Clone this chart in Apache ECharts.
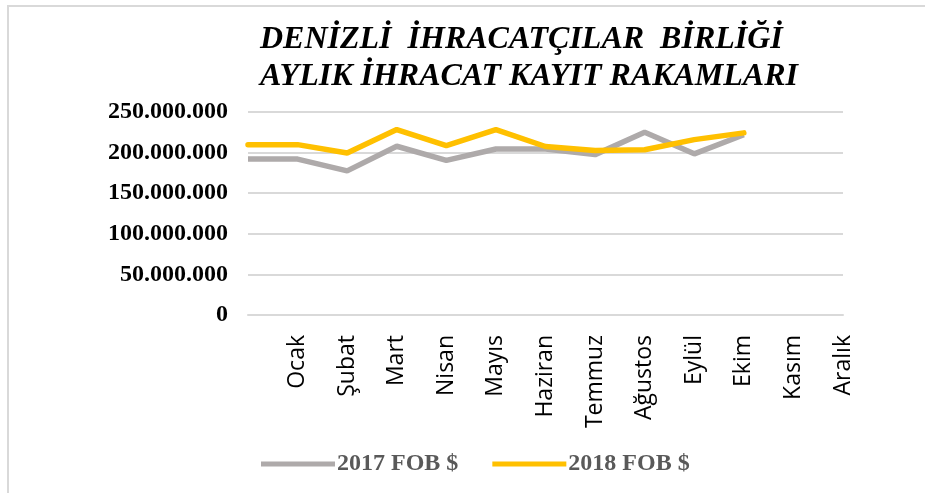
<!DOCTYPE html>
<html>
<head>
<meta charset="utf-8">
<script src="https://cdn.jsdelivr.net/npm/echarts@6/dist/echarts.min.js"></script>
<style>
  html, body { margin: 0; padding: 0; background: #fff; }
  #frame { position: absolute; left: 7px; top: 5px; width: 940px; height: 500px; border-left: 2px solid #d9d9d9; border-top: 2px solid #d9d9d9; }
  #chart { position: absolute; left: 0; top: 0; width: 925px; height: 493px; }
</style>
</head>
<body>
<div id="frame"></div>
<div id="chart"></div>
<script>
const months = ['', 'Ocak', 'Şubat', 'Mart', 'Nisan', 'Mayıs', 'Haziran', 'Temmuz', 'Ağustos', 'Eylül', 'Ekim', 'Kasım', 'Aralık']
const fob2017 = [192000000, 192000000, 177500000, 207800000, 190500000, 204500000, 204500000, 197500000, 225000000, 198500000, 222000000, null, null]
const fob2018 = [209800000, 209800000, 199600000, 228400000, 208600000, 228400000, 207500000, 202500000, 203500000, 216000000, 224300000, null, null]
const titleLines = ['DENİZLİ  İHRACATÇILAR  BİRLİĞİ', 'AYLIK İHRACAT KAYIT RAKAMLARI']

const chart = echarts.init(document.getElementById('chart'))

function dotted(v) {
  return String(v).replace(/\B(?=(\d{3})+(?!\d))/g, '.')
}

chart.setOption({
  animation: false,
  title: {
    text: titleLines.join('\n'),
    left: 255,
    top: 16,
    textStyle: {
      fontFamily: 'Liberation Serif',
      fontStyle: 'italic',
      fontWeight: 'bold',
      fontSize: 32,
      lineHeight: 37,
      color: '#000'
    }
  },
  legend: {
    bottom: 12,
    left: 256,
    itemWidth: 74,
    itemHeight: 5,
    itemGap: 34,
    icon: 'rect',
    textStyle: {
      fontFamily: 'Liberation Serif',
      fontWeight: 'bold',
      fontSize: 24,
      color: '#595959',
      padding: [0, 0, 0, -3]
    },
    data: ['2017 FOB $', '2018 FOB $']
  },
  grid: {
    left: 248,
    right: 82,
    top: 112,
    bottom: 178
  },
  xAxis: {
    type: 'category',
    data: months,
    boundaryGap: false,
    axisLine: { lineStyle: { color: '#d9d9d9', width: 2 } },
    axisTick: { show: false },
    axisLabel: {
      rotate: 90,
      interval: 0,
      margin: 20,
      fontFamily: 'Open Sans',
      fontSize: 23,
      color: '#000'
    }
  },
  yAxis: {
    type: 'value',
    min: 0,
    max: 250000000,
    interval: 50000000,
    axisLine: { show: false },
    axisTick: { show: false },
    splitLine: { lineStyle: { color: '#d9d9d9', width: 2 } },
    axisLabel: {
      margin: 20,
      formatter: dotted,
      fontFamily: 'Liberation Serif',
      fontWeight: 'bold',
      fontSize: 24,
      color: '#000'
    }
  },
  series: [
    {
      name: '2017 FOB $',
      type: 'line',
      data: fob2017,
      showSymbol: false,
      color: '#AEAAAA',
      lineStyle: { width: 5.5, color: '#AEAAAA' }
    },
    {
      name: '2018 FOB $',
      type: 'line',
      data: fob2018,
      showSymbol: false,
      color: '#FFC000',
      lineStyle: { width: 5.5, color: '#FFC000', cap: 'round' }
    }
  ]
})

window.addEventListener('resize', () => chart.resize())
</script>
</body>
</html>
